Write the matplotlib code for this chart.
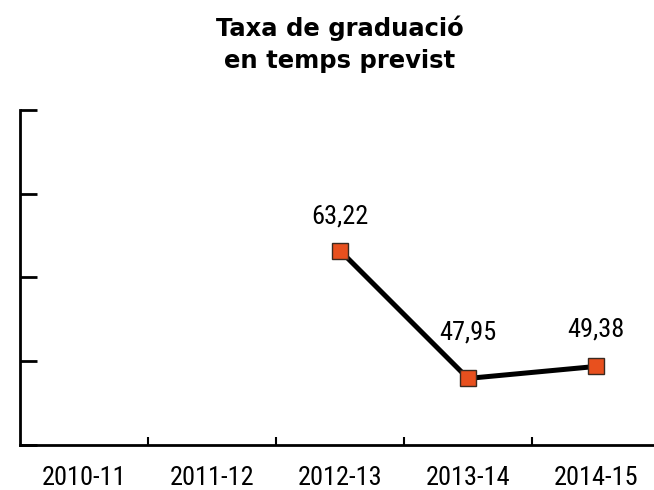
import numpy as np
import matplotlib
matplotlib.use('Agg')
import matplotlib.pyplot as plt
from matplotlib import font_manager as fm

# data
cursos = ['2010-11', '2011-12', '2012-13', '2013-14', '2014-15']
taxa = [np.nan, np.nan, 63.22, 47.95, 49.38]
etiquetes = ['', '', '63,22', '47,95', '49,38']
label_offset = [0, 0, 34, 46, 37]   # px above marker (label centre)

# pick a condensed sans for the labels
prefer = ['Liberation Sans Narrow', 'Roboto Condensed', 'Open Sans Condensed', 'DejaVu Sans Condensed']
fonts = {}
for fe in fm.fontManager.ttflist:
  if fe.style == 'normal' and fe.weight in (400, 'normal', 'regular'):
    fonts.setdefault(fe.name, fe.fname)
narrow_file = None
for nm in prefer:
  if nm in fonts:
    narrow_file = fonts[nm]
    break
if narrow_file is None:
  for nm in sorted(fonts):
    if 'Narrow' in nm or 'Condensed' in nm:
      narrow_file = fonts[nm]
      break
if narrow_file:
  lab_font = fm.FontProperties(fname=narrow_file, size=19)
else:
  lab_font = fm.FontProperties(family='DejaVu Sans', size=14)

fig = plt.figure(figsize=(6.54, 4.9), dpi=100)
ax = fig.add_axes([20/654, 1 - 445/490, 640/654, 335/490])

x = np.arange(len(cursos))
ax.plot(x, taxa, color='black', lw=3.6, marker='s', ms=11.5,
        mfc='#E8501E', mec='#3a2a20', mew=1.0, zorder=3)

for xi, yi, txt, off in zip(x, taxa, etiquetes, label_offset):
  if txt:
    ax.annotate(txt, (xi, yi), xytext=(0, off*0.72), textcoords='offset points',
                ha='center', va='center', fontproperties=lab_font)

ax.set_xlim(-0.5, len(cursos) - 0.5)
ax.set_ylim(40, 80)
ax.set_yticks([40, 50, 60, 70, 80])
ax.set_yticklabels([])
ax.set_xticks(x[:-1] + 0.5, minor=False)
ax.set_xticklabels([])
ax.set_xticks(x, minor=True)
ax.set_xticklabels(cursos, minor=True, fontproperties=lab_font)
ax.tick_params(axis='x', which='minor', length=0, pad=15)
ax.tick_params(axis='x', which='major', direction='in', length=6, width=1.5)
ax.tick_params(axis='y', direction='in', length=12, width=2)

for s in ['top', 'right']:
  ax.spines[s].set_visible(False)
for s in ['left', 'bottom']:
  ax.spines[s].set_linewidth(2)

fig.text(340/654, 1 - 44/490, 'Taxa de graduació\nen temps previst', ha='center', va='center',
         fontsize=17.5, fontweight='bold', family='DejaVu Sans', linespacing=1.4)

fig.savefig('out.png', dpi=100)
